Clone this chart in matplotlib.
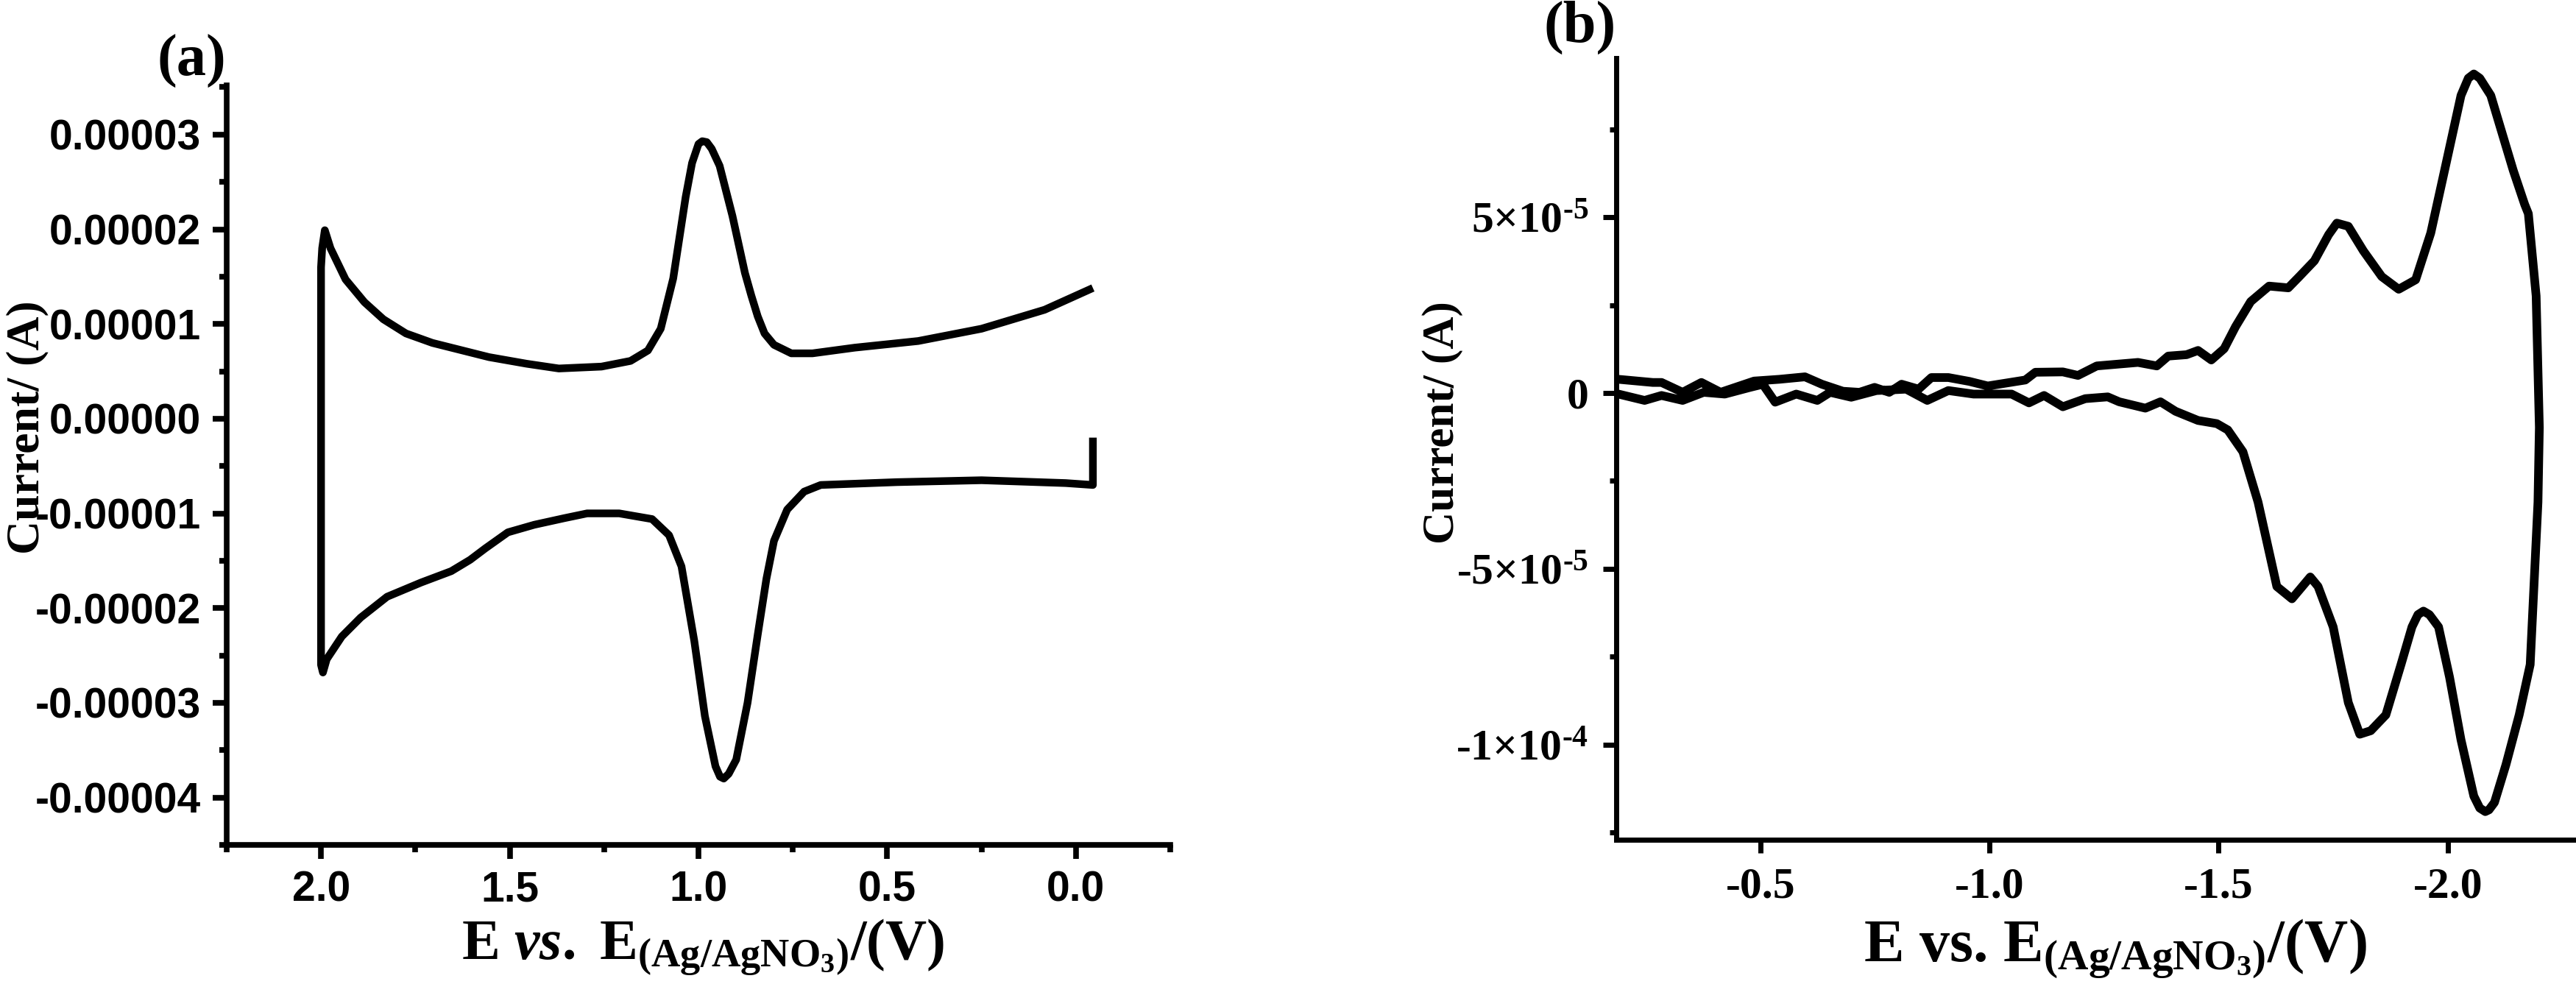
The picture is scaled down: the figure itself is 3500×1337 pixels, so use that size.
import matplotlib
matplotlib.use('Agg')
import matplotlib.pyplot as plt
import matplotlib.ticker as ticker

plt.rcParams['font.family'] = ['Liberation Serif', 'DejaVu Serif']
plt.rcParams['font.weight'] = 'bold'
plt.rcParams['mathtext.fontset'] = 'custom'
plt.rcParams['mathtext.rm'] = 'Liberation Serif:bold'
plt.rcParams['mathtext.bf'] = 'Liberation Serif:bold'
plt.rcParams['mathtext.it'] = 'Liberation Serif:italic:bold'
plt.rcParams['axes.unicode_minus'] = False

# (a) cyclic voltammogram, potential in V, current in 1e-5 A
pot_a_up = [-0.045, 0.083, 0.25, 0.418, 0.586, 0.698, 0.754, 0.80, 0.825, 0.843, 0.86, 0.877,
            0.91, 0.944, 0.965, 0.978, 0.99, 1.0, 1.017, 1.034, 1.067, 1.10, 1.134, 1.18, 1.257,
            1.37, 1.455, 1.555, 1.635, 1.705, 1.775, 1.835, 1.885, 1.935, 1.975, 1.99, 1.997]
cur_a_up = [1.38, 1.15, 0.95, 0.82, 0.75, 0.69, 0.69, 0.78, 0.9, 1.08, 1.3, 1.54,
            2.14, 2.67, 2.85, 2.92, 2.93, 2.9, 2.7, 2.34, 1.48, 0.95, 0.72, 0.61, 0.55,
            0.53, 0.58, 0.65, 0.73, 0.8, 0.9, 1.05, 1.23, 1.47, 1.8, 1.99, 1.8]
pot_a_down = [2.0, 2.0, 1.995, 1.985, 1.945, 1.895, 1.825, 1.735, 1.655, 1.605, 1.565, 1.505,
              1.435, 1.355, 1.295, 1.21, 1.123, 1.078, 1.045, 1.011, 0.983, 0.955, 0.943, 0.933,
              0.92, 0.9, 0.87, 0.843, 0.82, 0.8, 0.765, 0.72, 0.676, 0.474, 0.25, 0.027, -0.045, -0.045]
cur_a_down = [1.6, -2.6, -2.68, -2.54, -2.3, -2.1, -1.88, -1.73, -1.61, -1.49, -1.37, -1.2,
              -1.12, -1.05, -1.0, -1.0, -1.06, -1.23, -1.56, -2.35, -3.14, -3.67, -3.78, -3.8,
              -3.75, -3.6, -3.0, -2.28, -1.69, -1.29, -0.96, -0.77, -0.7, -0.67, -0.65, -0.68, -0.7, -0.2]

# (b) cyclic voltammogram, potential in V, current in 1e-5 A
pot_b_up = [-0.19, -0.265, -0.284, -0.33, -0.371, -0.413, -0.486, -0.541, -0.597, -0.634, -0.68,
            -0.716, -0.749, -0.781, -0.808, -0.845, -0.873, -0.91, -0.956, -0.996, -1.078, -1.10,
            -1.16, -1.193, -1.234, -1.324, -1.365, -1.39, -1.43, -1.455, -1.484, -1.512, -1.537,
            -1.57, -1.61, -1.652, -1.676, -1.709, -1.74, -1.758, -1.783, -1.816, -1.856, -1.893,
            -1.93, -1.963, -1.996, -2.029, -2.045, -2.057, -2.07, -2.094, -2.143, -2.168, -2.176,
            -2.193, -2.2]
cur_b_up = [0.39, 0.30, 0.30, 0.02, 0.3, 0.02, 0.34, 0.39, 0.46, 0.25, 0.05,
            0.02, 0.16, 0.02, 0.25, 0.11, 0.44, 0.44, 0.33, 0.2, 0.37, 0.59,
            0.6, 0.5, 0.77, 0.87, 0.77, 1.05, 1.09, 1.21, 0.94, 1.26, 1.89,
            2.6, 3.04, 2.99, 3.31, 3.76, 4.5, 4.83, 4.74, 4.04, 3.31, 2.95,
            3.22, 4.55, 6.5, 8.46, 8.95, 9.07, 8.95, 8.46, 6.33, 5.36, 5.1,
            2.76, -0.98]
pot_b_down = [-2.197, -2.18, -2.156, -2.127, -2.102, -2.09, -2.082, -2.07, -2.057, -2.029, -2.004,
              -1.98, -1.96, -1.947, -1.935, -1.922, -1.898, -1.865, -1.832, -1.808, -1.783, -1.75,
              -1.717, -1.70, -1.66, -1.627, -1.586, -1.553, -1.52, -1.496, -1.455, -1.406, -1.373,
              -1.34, -1.283, -1.258, -1.209, -1.16, -1.119, -1.086, -1.048, -0.965, -0.91, -0.864,
              -0.818, -0.753, -0.698, -0.652, -0.624, -0.578, -0.532, -0.505, -0.477, -0.422,
              -0.376, -0.33, -0.284, -0.247, -0.19]
cur_b_down = [-3.1, -7.72, -9.15, -10.57, -11.64, -11.85, -11.9, -11.8, -11.46, -9.86, -8.08,
              -6.65, -6.3, -6.2, -6.3, -6.65, -7.72, -9.15, -9.6, -9.7, -8.8, -6.65,
              -5.5, -5.23, -5.85, -5.5, -3.1, -1.67, -1.05, -0.87, -0.78, -0.52, -0.25,
              -0.43, -0.25, -0.11, -0.16, -0.39, -0.07, -0.28, -0.03, -0.03, 0.07, -0.21,
              0.11, 0.07, -0.12, 0.02, -0.21, -0.03, -0.26, 0.25, 0.16, -0.03,
              0.02, -0.21, -0.07, -0.21, -0.03]

xticks_a = [2.0, 1.5, 1.0, 0.5, 0.0]
yticks_a = [-4e-5, -3e-5, -2e-5, -1e-5, 0.0, 1e-5, 2e-5, 3e-5]
xticks_b = [-0.5, -1.0, -1.5, -2.0]
yticks_b = [-1e-4, -5e-5, 0.0, 5e-5]
ylabels_b = ['-1×$\\mathbf{10}^{\\text{-4}}$', '-5×$\\mathbf{10}^{\\text{-5}}$', '0',
             '5×$\\mathbf{10}^{\\text{-5}}$']

fig = plt.figure(figsize=(35, 13.37), dpi=100)
ax1 = fig.add_axes([0.088, 0.1414, 0.3663, 0.7719])
ax2 = fig.add_axes([0.6274, 0.1466, 0.3726, 0.7943])

xa = pot_a_up + pot_a_down
ya = [v * 1e-5 for v in cur_a_up + cur_a_down]
ax1.plot(xa, ya, color='black', lw=7.5, solid_joinstyle='round', solid_capstyle='butt')
xb = pot_b_up + pot_b_down
yb = [v * 1e-5 for v in cur_b_up + cur_b_down]
ax2.plot(xb, yb, color='black', lw=8.5, solid_joinstyle='round', solid_capstyle='round')

ax1.set_xlim(2.25, -0.25)
ax1.set_ylim(-4.5e-5, 3.52e-5)
ax2.set_xlim(-0.185, -2.28)
ax2.set_ylim(-1.27e-4, 9.52e-5)

for ax in (ax1, ax2):
    ax.spines['top'].set_visible(False)
    ax.spines['right'].set_visible(False)

for s in ('left', 'bottom'):
    ax1.spines[s].set_linewidth(5.5)
    ax2.spines[s].set_linewidth(5)

ax1.xaxis.set_major_locator(ticker.FixedLocator(xticks_a))
ax1.xaxis.set_minor_locator(ticker.MultipleLocator(0.25))
ax1.yaxis.set_major_locator(ticker.FixedLocator(yticks_a))
ax1.yaxis.set_minor_locator(ticker.MultipleLocator(0.5e-5))
ax1.xaxis.set_major_formatter(ticker.FuncFormatter(lambda v, p: '%.1f' % abs(v) if abs(v) < 1e-9 else '%.1f' % v))
ax1.yaxis.set_major_formatter(ticker.FuncFormatter(lambda v, p: '0.00000' if abs(v) < 1e-12 else '%.5f' % v))
ax1.tick_params(which='major', length=14, width=5.5, direction='out', pad=11,
                labelsize=41)
ax1.tick_params(which='minor', length=7, width=5.5, direction='out')
for lab in ax1.get_xticklabels() + ax1.get_yticklabels():
    lab.set_fontfamily('Liberation Sans')
    lab.set_fontweight('bold')

ax2.xaxis.set_major_locator(ticker.FixedLocator(xticks_b))
ax2.xaxis.set_minor_locator(ticker.NullLocator())
ax2.yaxis.set_major_locator(ticker.FixedLocator(yticks_b))
ax2.yaxis.set_major_formatter(ticker.FixedFormatter(ylabels_b))
ax2.yaxis.set_minor_locator(ticker.MultipleLocator(2.5e-5))
ax2.xaxis.set_major_formatter(ticker.FuncFormatter(lambda v, p: '%.1f' % v))
ax2.tick_params(which='major', length=13, width=5, direction='out', pad=14, labelsize=43)
ax2.tick_params(which='minor', length=6.5, width=5, direction='out')

# axis titles and panel letters
ax1.text(-0.211, 0.55, 'Current/ (A)', rotation=90, ha='center', va='center',
         fontsize=46, fontweight='bold', transform=ax1.transAxes)
ax1.text(0.505, -0.135, 'E $\\mathit{vs.}$ E$_{\\mathrm{(Ag/AgNO_3)}}$/(V)', ha='center', va='center',
         fontsize=56, fontweight='bold', transform=ax1.transAxes)
ax1.text(-0.037, 1.031, '(a)', ha='center', va='center', fontsize=58, fontweight='bold',
         transform=ax1.transAxes)

ax2.text(-0.181, 0.534, 'Current/ (A)', rotation=90, ha='center', va='center',
         fontsize=44, fontweight='bold', transform=ax2.transAxes)
ax2.text(0.52, -0.14, 'E vs. E$_{\\mathrm{(Ag/AgNO_3)}}$/(V)', ha='center', va='center',
         fontsize=59, fontweight='bold', transform=ax2.transAxes)
ax2.text(-0.038, 1.039, '(b)', ha='center', va='center', fontsize=58, fontweight='bold',
         transform=ax2.transAxes)

fig.savefig('out.png', dpi=100)
